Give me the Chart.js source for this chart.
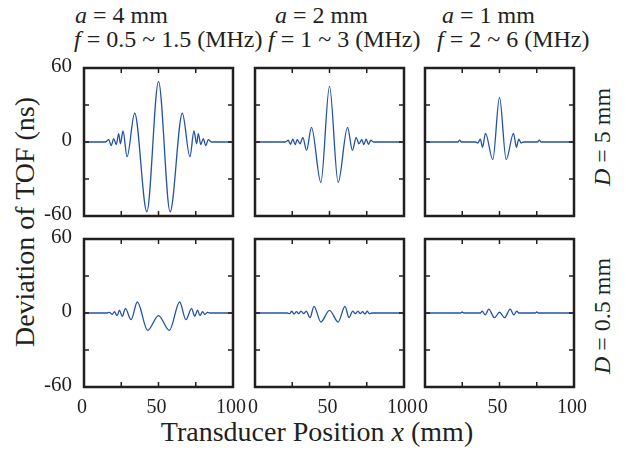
<!DOCTYPE html>
<html><head><meta charset="utf-8">
<script src="https://cdn.jsdelivr.net/npm/chart.js@4/dist/chart.umd.min.js"></script>
<style>
html,body{margin:0;padding:0;background:#fff;}
body{width:626px;height:450px;position:relative;overflow:hidden;font-family:"Liberation Serif","Times New Roman",serif;color:#231f20;}
canvas{position:absolute;}
.t{position:absolute;white-space:nowrap;line-height:1;}
.c{transform:translate(-50%,-50%) rotate(-90deg);}
</style></head><body>
<div class="t" style="left:75px;top:3px;font-size:24px"><i>a</i> = 4 mm</div>
<div class="t" style="left:275px;top:3px;font-size:24px"><i>a</i> = 2 mm</div>
<div class="t" style="left:442px;top:3px;font-size:24px"><i>a</i> = 1 mm</div>
<div class="t" style="left:74px;top:27px;font-size:24px"><i>f</i> = 0.5 ~ 1.5 (MHz)</div>
<div class="t" style="left:268px;top:27px;font-size:24px"><i>f</i> = 1 ~ 3 (MHz)</div>
<div class="t" style="left:437px;top:27px;font-size:24px"><i>f</i> = 2 ~ 6 (MHz)</div>
<div class="t c" style="left:25px;top:222px;font-size:28px">Deviation of TOF (ns)</div>
<div class="t" style="left:317px;top:418px;font-size:28px;transform:translateX(-50%)">Transducer Position <i>x</i> (mm)</div>
<div class="t c" style="left:602px;top:137px;font-size:24px"><i>D</i> = 5 mm</div>
<div class="t c" style="left:602px;top:316px;font-size:24px"><i>D</i> = 0.5 mm</div>
<script>
// ---- data ----
const xTickValues = [0, 50, 100];
const xTickLabels = ['0', '50', '100'];
const yTickValues = [-60, 0, 60];
const yTickLabels = ['-60', '0', '60'];
const xMarkValues = [0, 25, 50, 75, 100];
const yMarkValues = [-60, -30, 0, 30, 60];

// a = 4 mm, D = 5 mm
const xA4D5 = [0, 14.4, 16.7, 18.2, 20, 21.6, 23.3, 24.4, 26.2, 28.9, 34, 42.2, 50, 57.8, 66, 71.1, 73.8, 75.6, 76.7, 78.4, 80, 81.8, 83.3, 85.6, 100];
const yA4D5 = [0, 0, 1.9, -3, 2.7, -2.2, 6.8, -1.4, 8.9, -11.9, 23.3, -56.5, 49, -56.5, 23.3, -11.9, 8.9, -1.4, 6.8, -2.2, 2.7, -3, 1.9, 0, 0];
// a = 2 mm, D = 5 mm
const xA2D5 = [0, 20.5, 22.3, 23.8, 25.4, 27, 28.3, 30.3, 32.1, 34.6, 37.9, 44.2, 50, 55.8, 62.1, 65.4, 67.9, 69.7, 71.7, 73, 74.6, 76.2, 77.7, 79.5, 100];
const yA2D5 = [0, 0, 1.4, -1.9, 2.4, -2.2, 1.9, -1.4, 3.8, -6.8, 11.9, -32.7, 45.1, -32.7, 11.9, -6.8, 3.8, -1.4, 1.9, -2.2, 2.4, -1.9, 1.4, 0, 0];
// a = 1 mm, D = 5 mm
const xA1D5 = [0, 22.1, 23.3, 24.5, 34, 35.5, 37.1, 38.6, 40.6, 45.5, 50, 54.5, 59.4, 61.4, 62.9, 64.5, 66, 75.5, 76.7, 77.9, 100];
const yA1D5 = [0, 0, 1.5, 0, 0, -0.8, 2.4, -4.3, 7, -14.3, 36.2, -14.3, 7, -4.3, 2.4, -0.8, 0, 0, 1.5, 0, 0];
// a = 4 mm, D = 0.5 mm
const xA4D05 = [0, 15.6, 17, 19, 20.4, 22.2, 23.8, 25.6, 27.8, 31.6, 35.8, 42.7, 50, 57.3, 64.2, 68.4, 72.2, 74.4, 76.2, 77.8, 79.6, 81, 83, 84.4, 100];
const yA4D05 = [0, 0, 0.5, -1.1, 1.1, -2.2, 2.4, -2.7, 3.5, -5.4, 8.9, -14.1, -2.2, -14.1, 8.9, -5.4, 3.5, -2.7, 2.4, -2.2, 1.1, -1.1, 0.5, 0, 0];
// a = 2 mm, D = 0.5 mm
const xA2D05 = [0, 21.6, 23.3, 24.7, 26.2, 27.8, 29.3, 30.9, 32.7, 34.4, 36.9, 39.6, 44.2, 50, 55.8, 60.4, 63.1, 65.6, 67.3, 69.1, 70.7, 72.2, 73.8, 75.3, 76.7, 78.4, 100];
const yA2D05 = [0, 0, -0.5, 1.4, -0.8, 1.1, -0.5, 1.6, -0.5, 1.6, -3.8, 5.4, -7.3, 2.2, -7.3, 5.4, -3.8, 1.6, -0.5, 1.6, -0.5, 1.1, -0.8, 1.4, -0.5, 0, 0];
// a = 1 mm, D = 0.5 mm
const xA1D05 = [0, 24, 25, 26, 37, 38.4, 40.4, 42.8, 46.6, 50, 53.4, 57.2, 59.6, 61.6, 63, 74, 75, 76, 100];
const yA1D05 = [0, 0, 0.8, 0, 0, 1.6, -1.6, 3.2, -3.8, 0.6, -3.8, 3.2, -1.6, 1.6, 0, 0, 0.8, 0, 0];

// ---- layout / style ----
const INK = '#231f20';
const LINE = '#2452a5';
const FONT = "'Liberation Serif','Times New Roman',serif";
const PAD = 20, YW = 50, XH = 40, TL = 5;
const colLeft = [84, 255, 425];
const rowTop = [68, 239];
const PW = 149, PH = 148;

const panels = [
  {xs: xA4D5, ys: yA4D5, c: 0, r: 0},
  {xs: xA2D5, ys: yA2D5, c: 1, r: 0},
  {xs: xA1D5, ys: yA1D5, c: 2, r: 0},
  {xs: xA4D05, ys: yA4D05, c: 0, r: 1},
  {xs: xA2D05, ys: yA2D05, c: 1, r: 1},
  {xs: xA1D05, ys: yA1D05, c: 2, r: 1}
];

const framePlugin = {
  id: 'frame',
  afterDraw(chart) {
    const {ctx, chartArea: a, scales: {x, y}} = chart;
    ctx.save();
    ctx.strokeStyle = INK;
    ctx.lineWidth = 1.5;
    ctx.beginPath();
    xMarkValues.forEach(v => {
      const px = x.getPixelForValue(v);
      ctx.moveTo(px, a.bottom); ctx.lineTo(px, a.bottom - TL);
      ctx.moveTo(px, a.top); ctx.lineTo(px, a.top + TL);
    });
    yMarkValues.forEach(v => {
      const py = y.getPixelForValue(v);
      ctx.moveTo(a.left, py); ctx.lineTo(a.left + TL, py);
      ctx.moveTo(a.right, py); ctx.lineTo(a.right - TL, py);
    });
    ctx.stroke();
    ctx.lineWidth = 2.5;
    ctx.strokeRect(a.left, a.top, a.right - a.left, a.bottom - a.top);
    ctx.restore();
  }
};

panels.forEach(p => {
  const cv = document.createElement('canvas');
  const w = PW + 2 * PAD + YW, h = PH + 2 * PAD + XH;
  cv.width = w; cv.height = h;
  cv.style.width = w + 'px'; cv.style.height = h + 'px';
  cv.style.left = (colLeft[p.c] - PAD - YW) + 'px';
  cv.style.top = (rowTop[p.r] - PAD) + 'px';
  document.body.appendChild(cv);
  const showY = p.c === 0, showX = p.r === 1;
  new Chart(cv, {
    type: 'line',
    data: {datasets: [{
      data: p.xs.map((x, i) => ({x: x, y: p.ys[i]})),
      borderColor: LINE, borderWidth: 1.3, pointRadius: 0,
      cubicInterpolationMode: 'monotone', fill: false
    }]},
    options: {
      responsive: false, animation: false, devicePixelRatio: 1,
      layout: {padding: {left: PAD, right: PAD, top: PAD, bottom: PAD}},
      plugins: {legend: {display: false}, tooltip: {enabled: false}},
      scales: {
        x: {
          type: 'linear', min: 0, max: 100, position: 'bottom',
          afterBuildTicks: s => { s.ticks = xTickValues.map(v => ({value: v})); },
          ticks: {display: showX, padding: 9, labelOffset: -2, color: INK, font: {family: FONT, size: 20},
                  maxRotation: 0, autoSkip: false, callback: (v, i) => xTickLabels[i]},
          grid: {display: false, drawTicks: false}, border: {display: false},
          afterFit: s => { s.height = XH; s.paddingLeft = 0; s.paddingRight = 0; }
        },
        y: {
          type: 'linear', min: -60, max: 60, position: 'left',
          afterBuildTicks: s => { s.ticks = yTickValues.map(v => ({value: v})); },
          ticks: {display: showY, padding: 12, labelOffset: -2, color: INK, font: {family: FONT, size: 21},
                  autoSkip: false, callback: (v, i) => yTickLabels[i]},
          grid: {display: false, drawTicks: false}, border: {display: false},
          afterFit: s => { s.width = YW; s.paddingTop = 0; s.paddingBottom = 0; }
        }
      }
    },
    plugins: [framePlugin]
  });
});
</script>
</body></html>
